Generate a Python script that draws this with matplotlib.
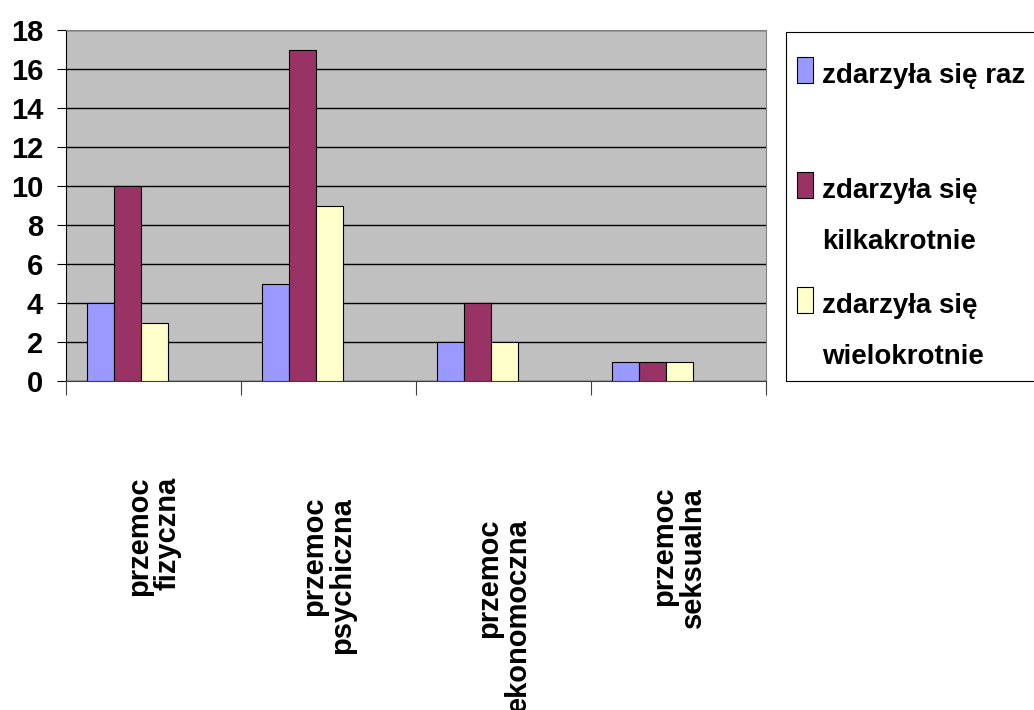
import matplotlib
matplotlib.use("Agg")
import matplotlib.pyplot as plt
import numpy as np
from matplotlib import font_manager
from matplotlib.patches import Rectangle
from matplotlib.transforms import blended_transform_factory

categories = ['przemoc\nfizyczna', 'przemoc\npsychiczna', 'przemoc\nekonomoczna', 'przemoc\nseksualna']
series_names = ['zdarzyła się raz', 'zdarzyła się\nkilkakrotnie', 'zdarzyła się\nwielokrotnie']
raz = [4, 5, 2, 1]
kilka = [10, 17, 4, 1]
wielo = [3, 9, 2, 1]
y_ticks = [0, 2, 4, 6, 8, 10, 12, 14, 16, 18]

colors = ['#9999FF', '#993366', '#FFFFCC']

# Arial Narrow look-alike if it is there
names = {f.name for f in font_manager.fontManager.ttflist}
if 'Liberation Sans Narrow' in names:
    fam = ['Liberation Sans Narrow', 'DejaVu Sans']
    fs = 24
else:
    fam = ['Liberation Sans', 'DejaVu Sans']
    fs = 20
plt.rcParams['font.family'] = fam
plt.rcParams['font.weight'] = 'bold'

fig = plt.figure(figsize=(10.34, 7.1), dpi=100)
W, H = 1034, 710
ax = fig.add_axes([66 / W, (H - 381) / H, 700 / W, 351 / H])
ax.set_facecolor('#C0C0C0')

index = np.arange(len(categories))
bar_width = 27 / 175
all_series = [raz, kilka, wielo]
for i, vals in enumerate(all_series):
    ax.bar(index + (i - 2) * bar_width + 0.005, vals, bar_width, color=colors[i],
           edgecolor='black', linewidth=0.8, zorder=3)

ax.set_xlim(-0.5, len(categories) - 0.5)
ax.set_ylim(0, 18)
ax.set_yticks(y_ticks)
ax.set_yticklabels([str(v) for v in y_ticks], fontsize=fs + 1, fontweight='bold')
ax.yaxis.grid(True, color='black', linewidth=1.0, zorder=1)
ax.set_xticks(np.arange(len(categories) + 1) - 0.5)
ax.set_xticklabels([])
ax.tick_params(axis='x', length=10, width=0.8, color='#404040', direction='out')
ax.tick_params(axis='y', length=6.5, width=0.8, color='black', direction='out', pad=10)

for s in ['top', 'right']:
    ax.spines[s].set_color('#808080')
ax.spines['left'].set_color('black')
ax.spines['bottom'].set_color('#404040')

# category labels, rotated
label_drop = [96, 116, 137, 106]
trans = blended_transform_factory(ax.transData, ax.transAxes)
for i, lab in enumerate(categories):
    ax.annotate(lab, xy=(i, 0), xycoords=trans, xytext=(0, -label_drop[i] * 0.72),
                textcoords='offset points', rotation=90, ha='center', va='top',
                multialignment='right', linespacing=1.0, fontsize=fs + 1,
                fontweight='bold', annotation_clip=False)

# legend box drawn by hand
fig.patches.append(Rectangle((786 / W, (H - 381) / H), 260 / W, 349 / H,
                             transform=fig.transFigure, facecolor='white',
                             edgecolor='black', linewidth=0.8))
baselines = [83, 198, 313]
for i, name in enumerate(series_names):
    y = baselines[i]
    fig.patches.append(Rectangle((797 / W, (H - y) / H), 16 / W, 26 / H,
                                 transform=fig.transFigure, facecolor=colors[i],
                                 edgecolor='black', linewidth=0.8))
    for j, line in enumerate(name.split('\n')):
        fig.text(822 / W, (H - y - 51 * j) / H, line, fontsize=fs,
                 fontweight='bold', ha='left', va='baseline')

fig.savefig('out.png', dpi=100)
